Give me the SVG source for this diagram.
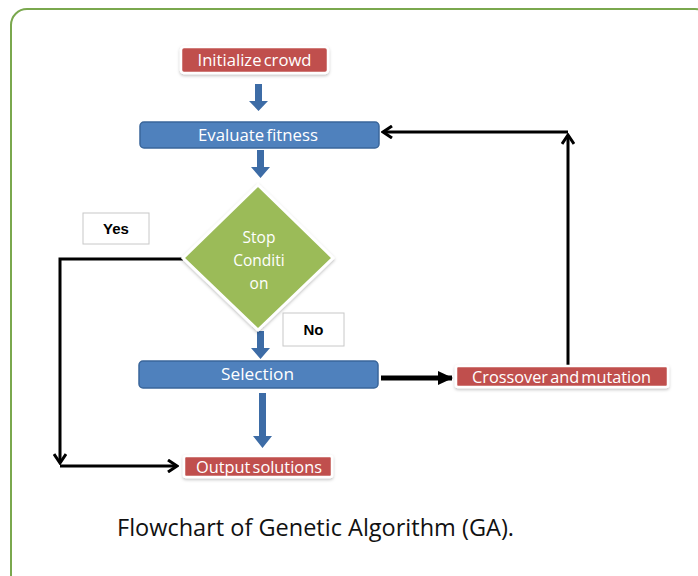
<svg xmlns="http://www.w3.org/2000/svg" width="698" height="576" viewBox="0 0 698 576">
<defs>
<style>
.frame{fill:#fff;stroke:#7aa84e;stroke-width:2}
.red{fill:#c0504d;stroke:#fff;stroke-width:2.5;filter:url(#sh)}
.blue{fill:#4f81bd;stroke:#3a669a;stroke-width:1.5}
.dia{fill:#9bbb59;stroke:#fff;stroke-width:3;filter:url(#sh)}
.lbl{fill:#fff;stroke:#c8c8c8;stroke-width:1}
.t{font-family:"Open Sans","Liberation Sans",sans-serif;font-size:15.5px;fill:#fff;text-anchor:middle;dominant-baseline:central;word-spacing:-2px}
.tb{font-family:"Liberation Sans",sans-serif;font-size:15px;font-weight:bold;fill:#000;text-anchor:middle;dominant-baseline:central}
.cap{font-family:"Open Sans","Liberation Sans",sans-serif;font-size:23px;fill:#111}
.bl{fill:none;stroke:#000;stroke-width:3}
.ba{fill:#3d6ca6}
</style>
<filter id="sh" x="-10%" y="-20%" width="120%" height="150%">
<feDropShadow dx="0" dy="1.5" stdDeviation="1.5" flood-color="#000" flood-opacity="0.25"/>
</filter>
<marker id="ah" markerWidth="12" markerHeight="14" refX="10" refY="7" orient="auto" markerUnits="userSpaceOnUse" viewBox="0 0 12 14">
<path d="M1,1 L10,7 L1,13" fill="none" stroke="#000" stroke-width="3"/>
</marker>
<marker id="ah2" markerWidth="16" markerHeight="16" refX="14" refY="8" orient="auto" markerUnits="userSpaceOnUse" viewBox="0 0 16 16">
<path d="M0,1 L15,8 L0,15 Z" fill="#000"/>
</marker>
</defs>
<rect class="frame" x="11" y="9" width="700" height="590" rx="16"/>
<g id="connectors">
<path class="ba" d="M255,84 h7 v17 h6 l-9.5,10 l-9.5,-10 h6 z"/>
<path class="ba" d="M257,150 h7 v17 h6 l-9.5,11 l-9.5,-11 h6 z"/>
<path class="ba" d="M257,331 h7 v17 h6 l-9.5,11 l-9.5,-11 h6 z"/>
<path class="ba" d="M259,393 h7 v43 h6 l-9.5,12 l-9.5,-12 h6 z"/>
<path class="bl" d="M183,259 H60 V463" marker-end="url(#ah)"/>
<path class="bl" d="M60,466 H177" marker-end="url(#ah)"/>
<path d="M381,378 H452" fill="none" stroke="#000" stroke-width="5" marker-end="url(#ah2)"/>
<path class="bl" d="M568,365 V135" marker-end="url(#ah)"/>
<path class="bl" d="M568,132 H383" marker-end="url(#ah)"/>
</g>
<g id="init">
<rect class="red" x="181" y="47" width="147" height="26" rx="3"/>
<text class="t" x="254.5" y="60" textLength="114" lengthAdjust="spacingAndGlyphs">Initialize crowd</text>
</g>
<g id="evaluate">
<rect class="blue" x="140" y="122" width="239" height="26" rx="4"/>
<text class="t" x="258" y="135" textLength="120" lengthAdjust="spacingAndGlyphs">Evaluate fitness</text>
</g>
<g id="stop">
<polygon class="dia" points="258,185 333,258 258,330 183,258"/>
<text class="t" x="259" y="237">Stop</text>
<text class="t" x="259" y="260">Conditi</text>
<text class="t" x="259" y="283">on</text>
</g>
<g id="yes">
<rect class="lbl" x="83" y="213" width="66" height="31"/>
<text class="tb" x="116" y="228.5">Yes</text>
</g>
<g id="no">
<rect class="lbl" x="283" y="313" width="61" height="33"/>
<text class="tb" x="313.5" y="329.5">No</text>
</g>
<g id="selection">
<rect class="blue" x="139" y="361" width="239" height="27" rx="4"/>
<text class="t" x="257.5" y="374" textLength="73" lengthAdjust="spacingAndGlyphs">Selection</text>
</g>
<g id="crossover">
<rect class="red" x="456" y="366" width="212" height="21" rx="2"/>
<text class="t" x="561.5" y="376.5" textLength="179" lengthAdjust="spacingAndGlyphs">Crossover and mutation</text>
</g>
<g id="output">
<rect class="red" x="184" y="456" width="148" height="21" rx="2"/>
<text class="t" x="259" y="466.5" textLength="126" lengthAdjust="spacingAndGlyphs">Output solutions</text>
</g>
<text class="cap" x="117" y="536" textLength="397" lengthAdjust="spacingAndGlyphs">Flowchart of Genetic Algorithm (GA).</text>
</svg>
